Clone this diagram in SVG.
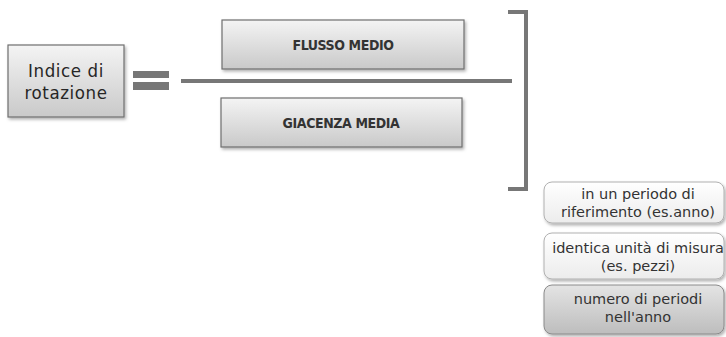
<svg xmlns="http://www.w3.org/2000/svg" width="726" height="337" viewBox="0 0 726 337">
  <defs>
    <linearGradient id="gBox" x1="0" y1="0" x2="0" y2="1">
      <stop offset="0" stop-color="#f4f4f4"/>
      <stop offset="1" stop-color="#c9c9c9"/>
    </linearGradient>
    <linearGradient id="gNote" x1="0" y1="0" x2="0" y2="1">
      <stop offset="0" stop-color="#ffffff"/>
      <stop offset="1" stop-color="#ececec"/>
    </linearGradient>
    <linearGradient id="gNoteDark" x1="0" y1="0" x2="0" y2="1">
      <stop offset="0" stop-color="#e4e4e4"/>
      <stop offset="1" stop-color="#bdbdbd"/>
    </linearGradient>
    <filter id="shadow" x="-10%" y="-10%" width="125%" height="130%">
      <feDropShadow dx="1.5" dy="2" stdDeviation="1.5" flood-color="#000" flood-opacity="0.3"/>
    </filter>
  </defs>
  <style>
    .box { fill: url(#gBox); stroke: #6f6f6f; stroke-width: 1.2; filter: url(#shadow); }
    .note { fill: url(#gNote); stroke: #b0b0b0; stroke-width: 1; filter: url(#shadow); }
    .noteDark { fill: url(#gNoteDark); stroke: #8a8a8a; stroke-width: 1; filter: url(#shadow); }
    .t { font-family: "DejaVu Sans Condensed", "DejaVu Sans", sans-serif; fill: #333; text-anchor: middle; }
    .big { font-size: 18.5px; letter-spacing: 0.6px; fill: #262626; }
    .bold { font-size: 14px; font-weight: bold; letter-spacing: -0.4px; }
    .small { font-family: "DejaVu Sans", sans-serif; font-size: 14.5px; }
    .bar { stroke: #777; fill: none; stroke-width: 4; }
  </style>
  <rect width="726" height="337" fill="#ffffff"/>

  <g id="indice">
    <rect class="box" x="8" y="45" width="116" height="72"/>
    <text class="t big" x="66" y="77">Indice di</text>
    <text class="t big" x="66" y="98.5">rotazione</text>
  </g>

  <g id="uguale">
    <rect x="133" y="71" width="36" height="7" fill="#777"/>
    <rect x="133" y="82" width="36" height="8" fill="#777"/>
  </g>

  <g id="flusso">
    <rect class="box" x="222" y="20" width="242" height="49"/>
    <text class="t bold" x="343" y="50">FLUSSO MEDIO</text>
  </g>

  <g id="giacenza">
    <rect class="box" x="221" y="98" width="241" height="49"/>
    <text class="t bold" x="341" y="128">GIACENZA MEDIA</text>
  </g>

  <g id="connectors">
    <line class="bar" x1="181" y1="81" x2="512" y2="81"/>
    <polyline class="bar" points="508,12 526,12 526,189 508,189"/>
  </g>

  <g id="nota1">
    <rect class="note" x="544" y="182" width="180" height="41" rx="8"/>
    <text class="t small" x="638" y="199">in un periodo di</text>
    <text class="t small" x="638" y="217">riferimento (es.anno)</text>
  </g>

  <g id="nota2">
    <rect class="note" x="544" y="233" width="180" height="46" rx="8"/>
    <text class="t small" x="638" y="253">identica unità di misura</text>
    <text class="t small" x="638" y="271">(es. pezzi)</text>
  </g>

  <g id="nota3">
    <rect class="noteDark" x="544" y="285" width="180" height="49" rx="8"/>
    <text class="t small" x="638" y="304">numero di periodi</text>
    <text class="t small" x="638" y="322">nell'anno</text>
  </g>
</svg>
